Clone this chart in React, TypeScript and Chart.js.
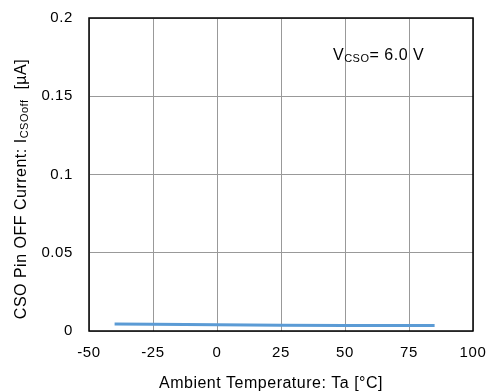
import React, { useEffect, useRef } from "react";
import { Chart, registerables } from "chart.js";

Chart.register(...registerables);

const temps = [-40, -25, 0, 25, 50, 75, 85];
const current = [0.0045, 0.0043, 0.004, 0.0036, 0.0035, 0.0035, 0.0035];
const xTicks = [-50, -25, 0, 25, 50, 75, 100];
const yTicks = [0, 0.05, 0.1, 0.15, 0.2];
const FONT = "'Liberation Sans', Arial, sans-serif";

type Part = { t: string; sub?: boolean };

function drawParts(ctx: CanvasRenderingContext2D, parts: Part[], x: number, y: number, size: number, subSize: number, drop: number) {
  let cx = x;
  for (const p of parts) {
    ctx.font = `${p.sub ? subSize : size}px ${FONT}`;
    ctx.fillText(p.t, cx, p.sub ? y + drop : y);
    cx += ctx.measureText(p.t).width;
  }
  return cx - x;
}

function measureParts(ctx: CanvasRenderingContext2D, parts: Part[], size: number, subSize: number) {
  let w = 0;
  for (const p of parts) {
    ctx.font = `${p.sub ? subSize : size}px ${FONT}`;
    w += ctx.measureText(p.t).width;
  }
  return w;
}

const overlay = {
  id: "overlay",
  beforeDraw(chart: any) {
    (chart.ctx as any).letterSpacing = "0.6px";
  },
  afterDraw(chart: any) {
    const { ctx, chartArea } = chart;
    const { left, right, top, bottom } = chartArea;
    ctx.save();
    ctx.strokeStyle = "#000";
    ctx.lineWidth = 1.5;
    ctx.strokeRect(left, top, right - left, bottom - top);
    ctx.fillStyle = "#000";
    ctx.textBaseline = "alphabetic";
    ctx.textAlign = "left";
    (ctx as any).letterSpacing = "0.5px";
    // annotation
    drawParts(ctx, [{ t: "V" }, { t: "CSO", sub: true }, { t: "= 6.0 V" }], 333, 60, 16, 11, 2);
    // x title
    ctx.font = `16px ${FONT}`;
    ctx.textAlign = "center";
    ctx.fillText("Ambient Temperature: Ta [°C]", 271, 388);
    // y title
    ctx.textAlign = "left";
    const parts: Part[] = [{ t: "CSO Pin OFF Current: I" }, { t: "CSOoff", sub: true }, { t: "  [µA]" }];
    const w = measureParts(ctx, parts, 16, 11);
    ctx.translate(26, 189);
    ctx.rotate(-Math.PI / 2);
    drawParts(ctx, parts, -w / 2, 0, 16, 11, 2);
    ctx.restore();
  },
};

export default function App() {
  const ref = useRef<HTMLCanvasElement>(null);
  useEffect(() => {
    document.body.style.margin = "0";
    const chart = new Chart(ref.current!, {
      type: "line",
      data: {
        datasets: [
          {
            data: temps.map((t, i) => ({ x: t, y: current[i] })),
            borderColor: "#5B9BD5",
            borderWidth: 3,
            pointRadius: 0,
            fill: false,
            tension: 0,
          },
        ],
      },
      options: {
        animation: false,
        responsive: false,
        layout: { padding: { top: 18, right: 19, left: 0, bottom: 0 } },
        plugins: { legend: { display: false }, tooltip: { enabled: false } },
        scales: {
          x: {
            type: "linear",
            min: -50,
            max: 100,
            afterBuildTicks: (s: any) => { s.ticks = xTicks.map((v) => ({ value: v })); },
            afterFit: (s: any) => { s.height = 61; s.paddingLeft = 0; s.paddingRight = 0; },
            grid: { color: "#999", lineWidth: 1, drawTicks: false },
            border: { display: false },
            ticks: { color: "#000", font: { family: FONT, size: 15 }, padding: 13, maxRotation: 0 },
          },
          y: {
            type: "linear",
            min: 0,
            max: 0.2,
            afterBuildTicks: (s: any) => { s.ticks = yTicks.map((v) => ({ value: v })); },
            afterFit: (s: any) => { s.width = 89; s.paddingTop = 0; s.paddingBottom = 0; },
            grid: { color: "#999", lineWidth: 1, drawTicks: false },
            border: { display: false },
            ticks: { color: "#000", font: { family: FONT, size: 15 }, padding: 16, callback: (v: any) => String(v) },
          },
        },
      },
      plugins: [overlay],
    } as any);
    return () => chart.destroy();
  }, []);
  return <canvas ref={ref} width={492} height={392} style={{ display: "block" }} />;
}
